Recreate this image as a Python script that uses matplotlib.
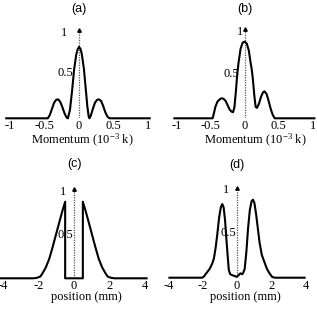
import matplotlib
matplotlib.use("Agg")
import matplotlib.pyplot as plt

plt.rcParams["font.family"] = "Liberation Serif"
plt.rcParams["mathtext.fontset"] = "custom"
plt.rcParams["mathtext.rm"] = "Liberation Serif"
plt.rcParams["mathtext.it"] = "Liberation Serif:italic"

# (a) momentum distribution
a_x = [-1.05, -0.45, -0.42, -0.39, -0.36, -0.33, -0.30, -0.27, -0.24, -0.21, -0.18, -0.16,
       -0.13, -0.10, -0.07, -0.04, -0.02, 0.0, 0.02, 0.04, 0.07, 0.10, 0.12, 0.14, 0.15,
       0.17, 0.20, 0.23, 0.26, 0.29, 0.32, 0.35, 0.38, 0.41, 0.44, 1.02]
a_y = [0, 0, 0.04, 0.11, 0.18, 0.215, 0.22, 0.19, 0.13, 0.06, 0.01, 0.0,
       0.10, 0.32, 0.57, 0.74, 0.80, 0.83, 0.81, 0.75, 0.58, 0.32, 0.14, 0.02, 0.0,
       0.03, 0.11, 0.18, 0.215, 0.22, 0.20, 0.14, 0.07, 0.02, 0.0, 0]

# (b) momentum distribution
b_x = [-1.03, -0.47, -0.45, -0.43, -0.40, -0.37, -0.34, -0.31, -0.28, -0.25, -0.22, -0.19,
       -0.17, -0.15, -0.13, -0.11, -0.09, -0.06, -0.03, 0.0, 0.03, 0.06, 0.09, 0.10, 0.12,
       0.14, 0.16, 0.18, 0.21, 0.24, 0.27, 0.29, 0.32, 0.35, 0.38, 0.41, 0.44, 1.02]
b_y = [0, 0, 0.06, 0.13, 0.19, 0.215, 0.23, 0.225, 0.20, 0.15, 0.10, 0.075,
       0.07, 0.13, 0.30, 0.50, 0.64, 0.80, 0.87, 0.88, 0.86, 0.78, 0.62, 0.58, 0.45,
       0.27, 0.13, 0.12, 0.17, 0.25, 0.30, 0.31, 0.28, 0.20, 0.11, 0.04, 0.0, 0]

# (c) position distribution
c_x = [-4.2, -2.3, -2.1, -1.9, -1.8, -1.6, -1.4, -1.2, -1.0, -0.8, -0.65, -0.5, -0.5,
       0.5, 0.5, 0.65, 0.8, 1.0, 1.2, 1.4, 1.6, 1.8, 1.9, 2.1, 2.3, 4.1]
c_y = [0, 0, 0.005, 0.02, 0.05, 0.12, 0.22, 0.36, 0.51, 0.66, 0.77, 0.87, 0,
       0, 0.87, 0.77, 0.66, 0.51, 0.36, 0.22, 0.12, 0.05, 0.02, 0.005, 0, 0]

# (d) position distribution
d_x = [-3.95, -2.05, -1.95, -1.8, -1.6, -1.45, -1.35, -1.25, -1.15, -1.05, -0.95, -0.86,
       -0.78, -0.70, -0.62, -0.55, -0.48, -0.40, -0.30, -0.15, -0.02, 0.1, 0.2, 0.3, 0.35,
       0.45, 0.55, 0.65, 0.75, 0.85, 0.93, 1.02, 1.12, 1.22, 1.32, 1.45, 1.6, 1.75, 1.9,
       2.05, 2.2, 3.95]
d_y = [0, 0, 0.01, 0.05, 0.10, 0.16, 0.22, 0.34, 0.50, 0.68, 0.80, 0.84,
       0.80, 0.66, 0.44, 0.26, 0.09, 0.04, 0.03, 0.02, 0.01, 0.03, 0.05, 0.04, 0.05,
       0.10, 0.30, 0.57, 0.77, 0.87, 0.89, 0.85, 0.72, 0.56, 0.40, 0.26, 0.18, 0.10, 0.05,
       0.01, 0, 0]

mom_ticks = [-1, -0.5, 0, 0.5, 1]
mom_labels = ["-1", "-0.5", "0", "0.5", "1"]
pos_ticks = [-4, -2, 0, 2, 4]
pos_labels = ["-4", "-2", "0", "2", "4"]

W, H = 317, 312
fig = plt.figure(figsize=(W / 100, H / 100), dpi=100)


def add_panel(x0, scale, xlim, base, unit):
    left = x0 + xlim[0] * scale
    width = (xlim[1] - xlim[0]) * scale
    ax = fig.add_axes([left / W, (H - base) / H, width / W, 1.1 * unit / H])
    ax.set_xlim(xlim)
    ax.set_ylim(0, 1.1)
    for s in ax.spines.values():
        s.set_visible(False)
    ax.set_yticks([])
    ax.patch.set_alpha(0)
    return ax


def ftext(x, y, s, **kw):
    fig.text(x / W, 1 - y / H, s, ha="center", va="center", **kw)


panels = [
    # x, y, xlim, zero px, scale, base px, unit px, ticks, labels, arrow top
    (a_x, a_y, (-1.05, 1.05), 79, 69.3, 118.3, 86, mom_ticks, mom_labels, 1.03),
    (b_x, b_y, (-1.05, 1.05), 244.7, 68.3, 118.3, 87, mom_ticks, mom_labels, 1.03),
    (c_x, c_y, (-4.2, 4.2), 74, 17.7, 278.3, 88, pos_ticks, pos_labels, 1.01),
    (d_x, d_y, (-4.1, 4.1), 237, 17.1, 277.7, 87.7, pos_ticks, pos_labels, 1.02),
]

for x, y, xlim, x0, sc, base, unit, ticks, labels, top in panels:
    ax = add_panel(x0, sc, xlim, base, unit)
    ax.plot([0, 0], [0, top], color="#555555", lw=0.9, ls=(0, (1, 1)))
    ax.plot([0], [top], marker="^", ms=2.5, color="k", clip_on=False)
    ax.plot(x, y, color="k", lw=1.5, solid_joinstyle="round", clip_on=False)
    ax.set_xticks(ticks)
    ax.set_xticklabels(labels, fontsize=9)
    ax.tick_params(axis="x", length=0, pad=1.5)

# panel titles
ftext(79, 9, "(a)", fontsize=9, family="Liberation Sans")
ftext(245, 9, "(b)", fontsize=9, family="Liberation Sans")
ftext(74, 164, "(c)", fontsize=9, family="Liberation Sans")
ftext(237, 165, "(d)", fontsize=9, family="Liberation Sans")

# axis labels
ftext(82.5, 140, r"Momentum (10$^{-3}$ k)", fontsize=9)
ftext(255, 140, r"Momentum (10$^{-3}$ k)", fontsize=9)
ftext(86.5, 297, "position (mm)", fontsize=9)
ftext(245.5, 297, "position (mm)", fontsize=9)

# y tick labels next to the arrows
ftext(64.5, 33, "1", fontsize=9)
ftext(65, 73, "0.5", fontsize=9)
ftext(240, 32, "1", fontsize=9)
ftext(231, 74, "0.5", fontsize=9)
ftext(63, 192, "1", fontsize=9)
ftext(65, 235, "0.5", fontsize=9)
ftext(226, 190, "1", fontsize=9)
ftext(228, 233, "0.5", fontsize=9)

fig.savefig("out.png", dpi=100)
